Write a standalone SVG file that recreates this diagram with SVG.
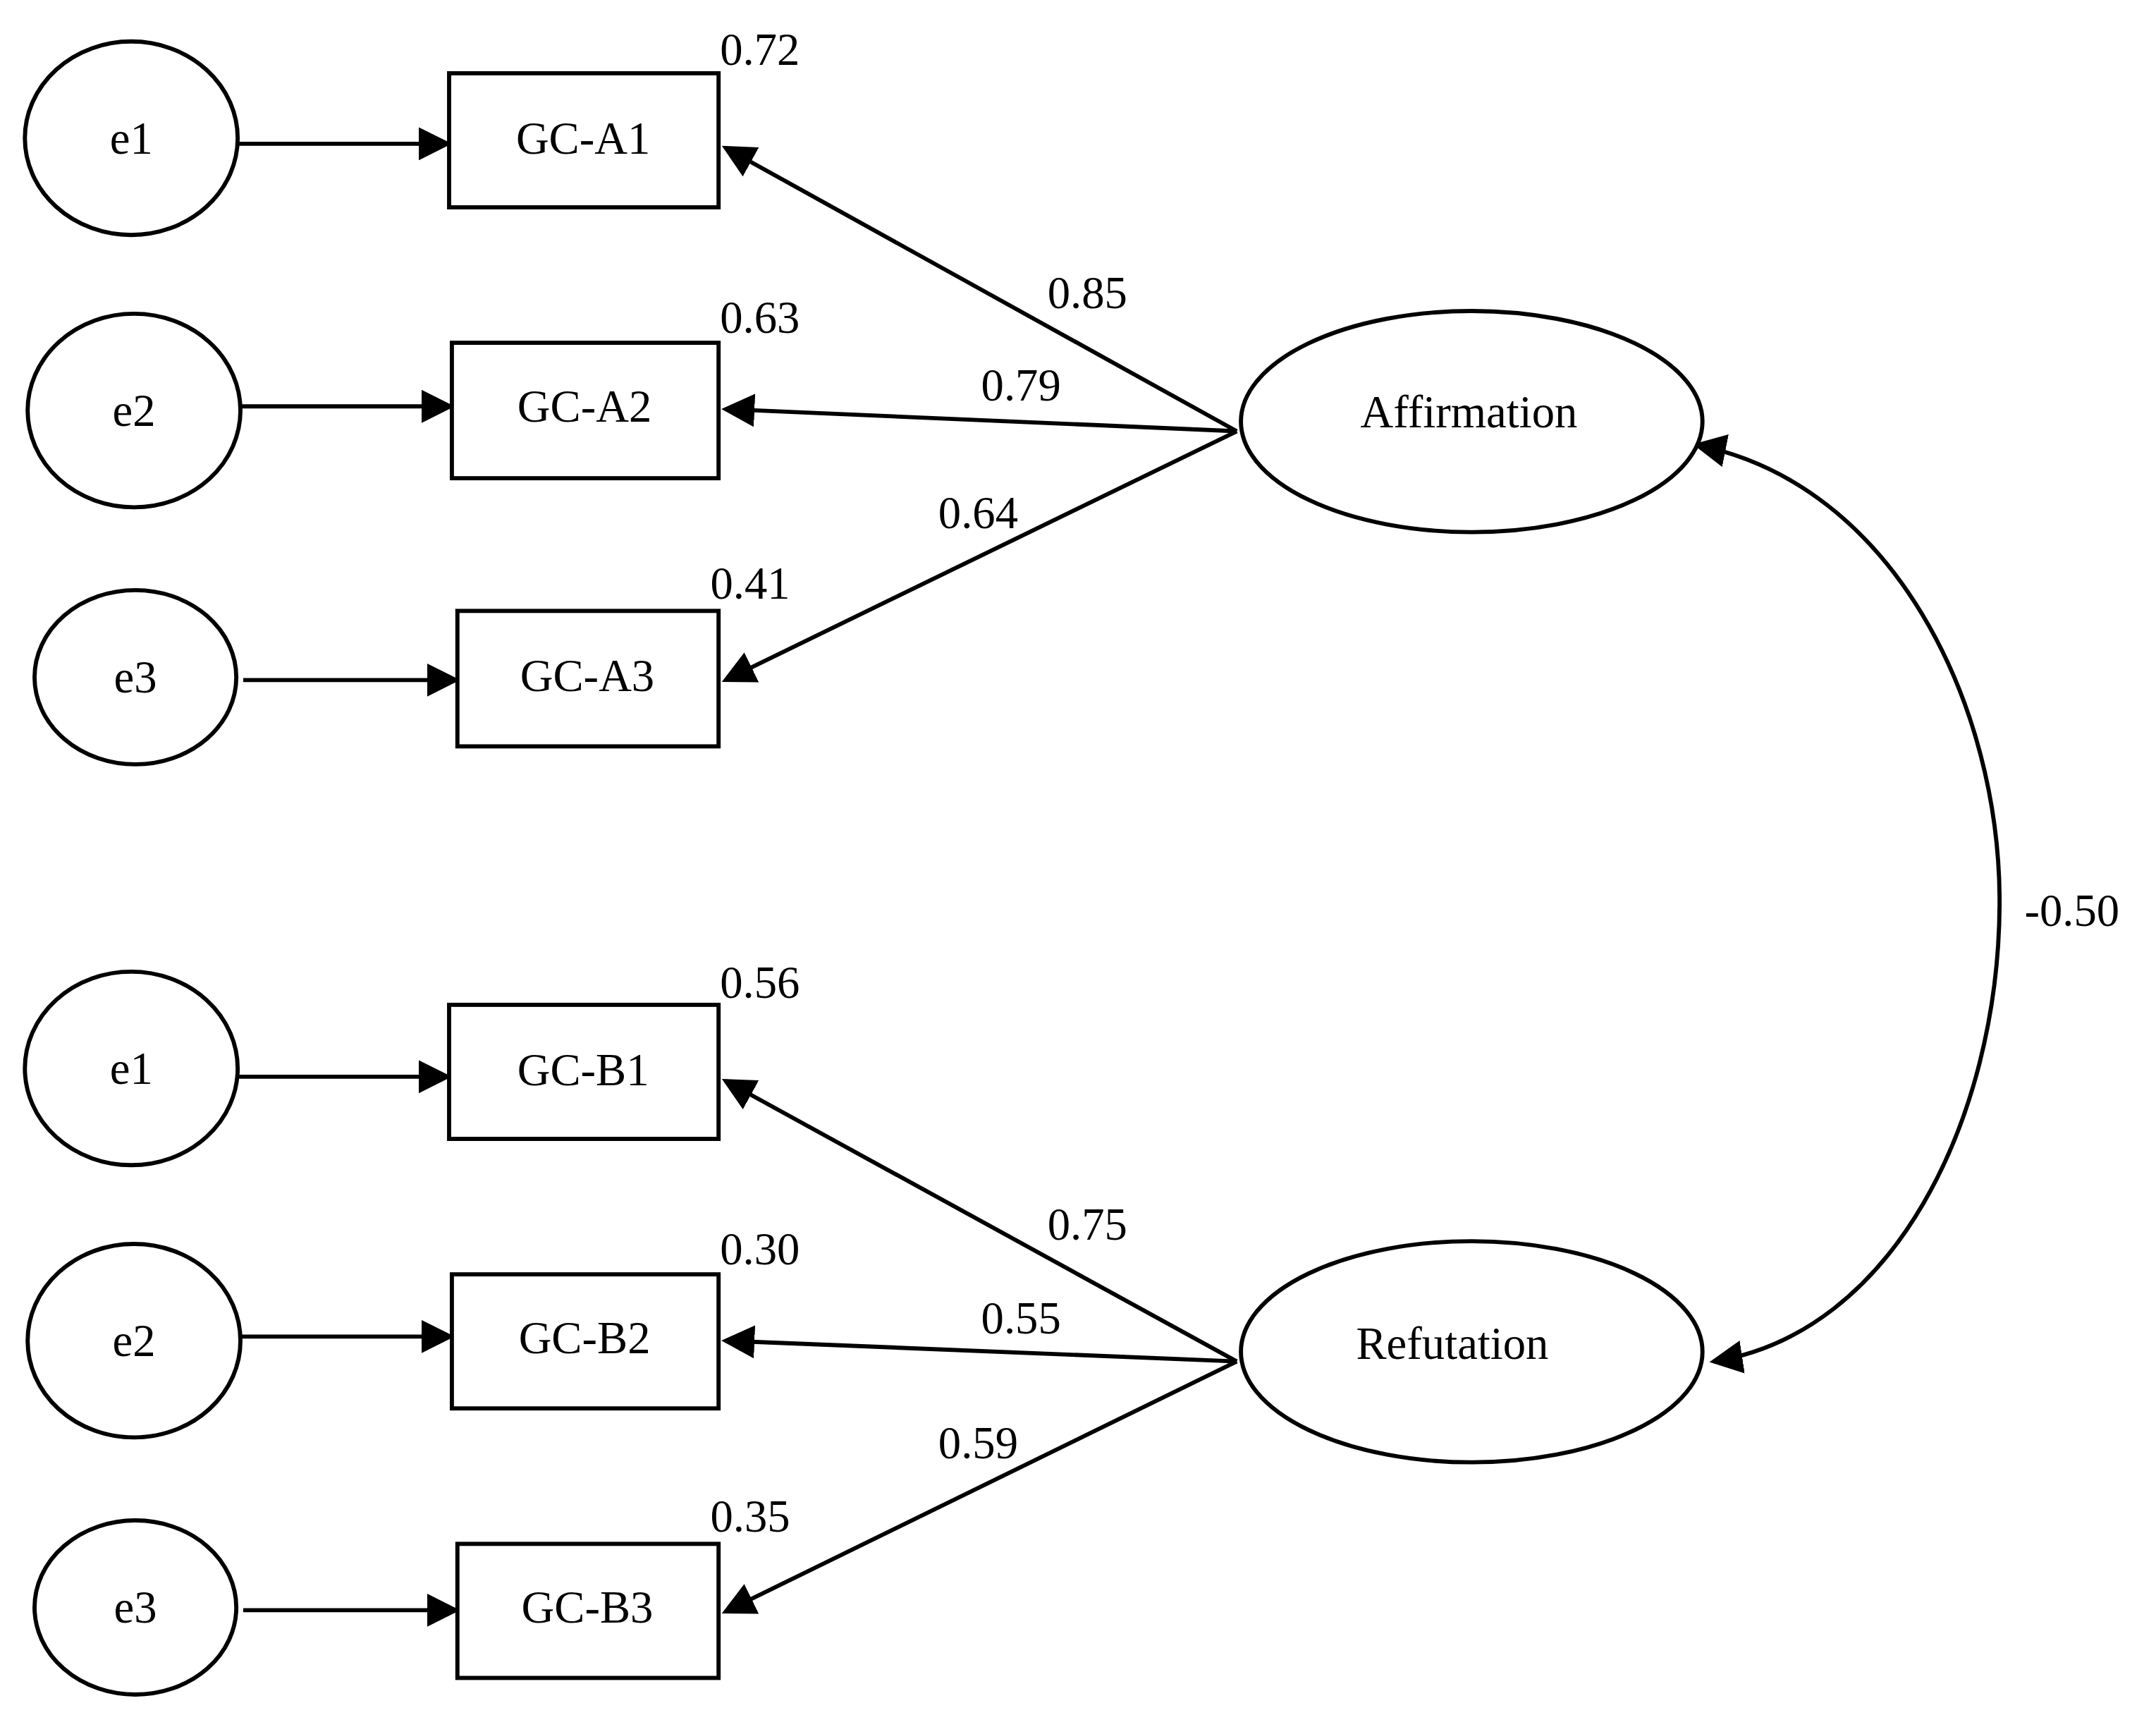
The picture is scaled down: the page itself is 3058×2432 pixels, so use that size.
<svg xmlns="http://www.w3.org/2000/svg" width="3058" height="2432" viewBox="0 0 3058 2432">
<style>
.n{fill:#fff;stroke:#000;stroke-width:3}
.c{fill:none;stroke:#000;stroke-width:3}
text{font-family:"Liberation Serif","DejaVu Serif",serif;font-size:33px;fill:#000}
.m{text-anchor:middle}
</style>
<defs>
<marker id="a" markerWidth="8" markerHeight="8" refX="7" refY="4" orient="auto" markerUnits="strokeWidth"><path d="M0,0L8,4L0,8z" fill="#000"/></marker>
<marker id="s" markerWidth="8" markerHeight="8" refX="1" refY="4" orient="auto" markerUnits="strokeWidth"><path d="M8,0L0,4L8,8z" fill="#000"/></marker>
</defs>
<rect width="3058" height="2432" fill="#fff"/>
<g transform="scale(1.96)">
<g id="connectors">
<line class="c" x1="173" y1="104" x2="324" y2="104" marker-end="url(#a)"/>
<line class="c" x1="175" y1="294" x2="326" y2="294" marker-end="url(#a)"/>
<line class="c" x1="176" y1="492" x2="330" y2="492" marker-end="url(#a)"/>
<line class="c" x1="173" y1="779" x2="324" y2="779" marker-end="url(#a)"/>
<line class="c" x1="175" y1="967" x2="326" y2="967" marker-end="url(#a)"/>
<line class="c" x1="176" y1="1165" x2="330" y2="1165" marker-end="url(#a)"/>
<line class="c" x1="895" y1="312" x2="525" y2="107" marker-end="url(#a)"/>
<line class="c" x1="895" y1="312" x2="525" y2="296" marker-end="url(#a)"/>
<line class="c" x1="895" y1="312" x2="525" y2="492" marker-end="url(#a)"/>
<line class="c" x1="895" y1="985" x2="525" y2="782" marker-end="url(#a)"/>
<line class="c" x1="895" y1="985" x2="525" y2="970" marker-end="url(#a)"/>
<line class="c" x1="895" y1="985" x2="525" y2="1166" marker-end="url(#a)"/>
<path class="c" d="M1228,322 C1370,350 1448,510 1447,655 C1446,810 1370,965 1240,985" marker-start="url(#s)" marker-end="url(#a)"/>
</g>
<g id="e1a"><ellipse class="n" cx="95" cy="100" rx="77" ry="70"/><text class="m" x="95" y="111">e1</text></g>
<g id="e2a"><ellipse class="n" cx="97" cy="297" rx="77" ry="70"/><text class="m" x="97" y="308">e2</text></g>
<g id="e3a"><ellipse class="n" cx="98" cy="490" rx="73" ry="63"/><text class="m" x="98" y="501">e3</text></g>
<g id="e1b"><ellipse class="n" cx="95" cy="773" rx="77" ry="70"/><text class="m" x="95" y="784">e1</text></g>
<g id="e2b"><ellipse class="n" cx="97" cy="970" rx="77" ry="70"/><text class="m" x="97" y="981">e2</text></g>
<g id="e3b"><ellipse class="n" cx="98" cy="1163" rx="73" ry="63"/><text class="m" x="98" y="1174">e3</text></g>
<g id="A1"><rect class="n" x="325" y="53" width="195" height="97"/><text class="m" x="422" y="111">GC-A1</text></g>
<g id="A2"><rect class="n" x="327" y="248" width="193" height="98"/><text class="m" x="423" y="305">GC-A2</text></g>
<g id="A3"><rect class="n" x="331" y="442" width="189" height="98"/><text class="m" x="425" y="500">GC-A3</text></g>
<g id="B1"><rect class="n" x="325" y="727" width="195" height="97"/><text class="m" x="422" y="785">GC-B1</text></g>
<g id="B2"><rect class="n" x="327" y="922" width="193" height="97"/><text class="m" x="423" y="979">GC-B2</text></g>
<g id="B3"><rect class="n" x="331" y="1117" width="189" height="97"/><text class="m" x="425" y="1174">GC-B3</text></g>
<g id="Aff"><ellipse class="n" cx="1065" cy="305" rx="167" ry="80"/><text class="m" x="1063" y="309">Affirmation</text></g>
<g id="Ref"><ellipse class="n" cx="1065" cy="978" rx="167" ry="80"/><text class="m" x="1051" y="983">Refutation</text></g>
<g id="labels">
<text x="521" y="47">0.72</text><text x="758" y="223">0.85</text>
<text x="521" y="241">0.63</text><text x="710" y="290">0.79</text>
<text x="679" y="382">0.64</text><text x="514" y="433">0.41</text>
<text x="1465" y="670">-0.50</text>
<text x="521" y="722">0.56</text><text x="758" y="897">0.75</text>
<text x="521" y="915">0.30</text><text x="710" y="965">0.55</text>
<text x="679" y="1055">0.59</text><text x="514" y="1108">0.35</text>
</g>
</g>
</svg>
